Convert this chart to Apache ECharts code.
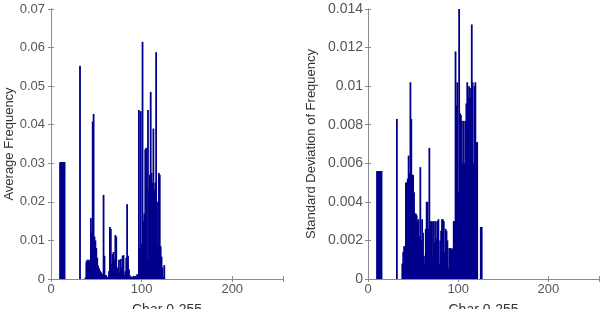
<!DOCTYPE html>
<html>
<head>
<meta charset="utf-8">
<script src="https://cdn.jsdelivr.net/npm/echarts@6/dist/echarts.min.js"></script>
<style>
html,body{margin:0;padding:0;background:#fff;}
#c{width:612px;height:309px;}
</style>
</head>
<body>
<div id="c"></div>
<script>
// ---- data ----
const charCount = 256;
const xTicks = [0, 100, 200];
const avgTicks = ['0', '0.01', '0.02', '0.03', '0.04', '0.05', '0.06', '0.07'];
const stdTicks = ['0', '0.002', '0.004', '0.006', '0.008', '0.01', '0.012', '0.014'];

// control chars block (10..15)
const ctrlStart = 10;
const avgCtrl = [0.0303, 0.0303, 0.0303, 0.0303, 0.0303, 0.0303];
const stdCtrl = [0.0056, 0.0056, 0.0056, 0.0056, 0.0056, 0.0056];

// space (32)
const spaceCode = 32;
const avgSpace = 0.0553;
const stdSpace = 0.0083;

// printable chars 38..127
const textStart = 38;
const avgText = [
  0.0004, 0.0045, 0.0050, 0.0048, 0.0050, 0.0046, 0.0158, 0.0120, 0.0408, 0.0428, // 38-47
  0.0110, 0.0100, 0.0080, 0.0055, 0.0035, 0.0028, 0.0022, 0.0018, 0.0015, 0.0012, // 48-57
  0.0218, 0.0060, 0.0010, 0.0010, 0.0005, 0.0004, 0.0020, 0.0135, 0.0130, 0.0040, // 58-67
  0.0065, 0.0070, 0.0050, 0.0114, 0.0110, 0.0030, 0.0025, 0.0050, 0.0015, 0.0052, // 68-77
  0.0030, 0.0060, 0.0062, 0.0010, 0.0020, 0.0055, 0.0194, 0.0060, 0.0025, 0.0010, // 78-87
  0.0005, 0.0006, 0.0004, 0.0008, 0.0005, 0.0008, 0.0006, 0.0012, 0.0010, 0.0438, // 88-97
  0.0080, 0.0435, 0.0090, 0.0615, 0.0150, 0.0170, 0.0336, 0.0340, 0.0050, 0.0438, // 98-107
  0.0230, 0.0270, 0.0485, 0.0275, 0.0250, 0.0390, 0.0230, 0.0250, 0.0588, 0.0200, // 108-117
  0.0090, 0.0275, 0.0270, 0.0085, 0.0058, 0.0030, 0.0005, 0.0036, 0.0000, 0.0000  // 118-127
];
const stdText = [
  0.0008, 0.0014, 0.0017, 0.0017, 0.0050, 0.0050, 0.0052, 0.0064, 0.0055, 0.0102, // 38-47
  0.0083, 0.0054, 0.0054, 0.0045, 0.0034, 0.0034, 0.0033, 0.0030, 0.0031, 0.0022, // 48-57
  0.0058, 0.0020, 0.0031, 0.0024, 0.0012, 0.0008, 0.0026, 0.0040, 0.0040, 0.0026, // 58-67
  0.0068, 0.0030, 0.0030, 0.0012, 0.0030, 0.0030, 0.0019, 0.0030, 0.0021, 0.0030, // 68-77
  0.0031, 0.0008, 0.0020, 0.0025, 0.0031, 0.0031, 0.0030, 0.0014, 0.0026, 0.0025, // 78-87
  0.0020, 0.0006, 0.0016, 0.0016, 0.0015, 0.0016, 0.0015, 0.0030, 0.0030, 0.0118, // 88-97
  0.0090, 0.0102, 0.0045, 0.0140, 0.0086, 0.0085, 0.0082, 0.0060, 0.0082, 0.0060, // 98-107
  0.0082, 0.0091, 0.0102, 0.0094, 0.0100, 0.0099, 0.0094, 0.0132, 0.0102, 0.0060, // 108-117
  0.0100, 0.0102, 0.0071, 0.0071, 0.0000, 0.0000, 0.0000, 0.0027, 0.0027, 0.0000  // 118-127
];

function buildSeries(ctrl, space, text) {
  const arr = new Array(charCount).fill(0);
  ctrl.forEach((v, i) => { arr[ctrlStart + i] = v; });
  arr[spaceCode] = space;
  text.forEach((v, i) => { arr[textStart + i] = v; });
  return arr.map((v, i) => [i, v]);
}
const avgData = buildSeries(avgCtrl, avgSpace, avgText);
const stdData = buildSeries(stdCtrl, stdSpace, stdText);

// ---- chart ----
const chart = echarts.init(document.getElementById('c'), null, {renderer: 'canvas'});
const boxColor = '#8c8c8c';
const baseColor = '#8f8fcf';
const barColor = '#00008c';
const font = 'Liberation Sans, Arial, sans-serif';

function fmt(ticks, step) {
  return v => ticks[Math.round(v / step)] || '';
}

function xAxes(gi) {
  return [
    {
      type: 'value', gridIndex: gi, min: 0, max: 256, interval: 100,
      name: 'Char 0-255', nameLocation: 'middle', nameGap: 24,
      nameTextStyle: {color: '#333', fontSize: 14, fontFamily: font},
      axisLine: {lineStyle: {color: baseColor, width: 1}},
      axisTick: {inside: true, length: 3, lineStyle: {color: boxColor}},
      axisLabel: {color: '#555', fontSize: 13, fontFamily: font, margin: 4,
        formatter: v => xTicks.indexOf(v) >= 0 ? String(v) : ''},
      splitLine: {show: false}
    },
    {
      type: 'value', gridIndex: gi, position: 'top', min: 0, max: 256, interval: 100,
      axisLine: {show: true, lineStyle: {color: boxColor}},
      axisTick: {inside: true, length: 3, lineStyle: {color: boxColor}},
      axisLabel: {show: false}, splitLine: {show: false}
    }
  ];
}

function yAxes(gi, max, step, ticks, name, gap, fs, margin) {
  return [
    {
      type: 'value', gridIndex: gi, min: 0, max: max, interval: step,
      name: name, nameLocation: 'middle', nameRotate: 90, nameGap: gap,
      nameTextStyle: {color: '#333', fontSize: 13, fontFamily: font},
      axisLine: {show: true, lineStyle: {color: boxColor}},
      axisTick: {show: true, inside: true, length: 3, lineStyle: {color: boxColor}},
      axisLabel: {color: '#555', fontSize: fs, fontFamily: font, margin: margin,
        formatter: fmt(ticks, step)},
      splitLine: {show: false}
    },
    {
      type: 'value', gridIndex: gi, position: 'right', min: 0, max: max, interval: step,
      axisLine: {show: true, lineStyle: {color: boxColor}},
      axisTick: {show: true, inside: true, length: 3, lineStyle: {color: boxColor}},
      axisLabel: {show: false}, splitLine: {show: false}
    }
  ];
}

const xa = xAxes(0).concat(xAxes(1));
const ya = yAxes(0, 0.07, 0.01, avgTicks, 'Average Frequency', 34, 13, 6)
  .concat(yAxes(1, 0.014, 0.002, stdTicks, 'Standard Deviation of Frequency', 50, 14, 5));

chart.setOption({
  animation: false,
  backgroundColor: '#fff',
  grid: [
    {left: 51, top: 9, width: 232, height: 270, containLabel: false, outerBoundsMode: 'none'},
    {left: 368, top: 9, width: 231, height: 270, containLabel: false, outerBoundsMode: 'none'}
  ],
  xAxis: xa,
  yAxis: ya,
  series: [
    {type: 'bar', xAxisIndex: 0, yAxisIndex: 0, data: avgData, barWidth: 1.8,
      itemStyle: {color: barColor}, silent: true},
    {type: 'bar', xAxisIndex: 2, yAxisIndex: 2, data: stdData, barWidth: 1.8,
      itemStyle: {color: barColor}, silent: true}
  ]
});
</script>
</body>
</html>
